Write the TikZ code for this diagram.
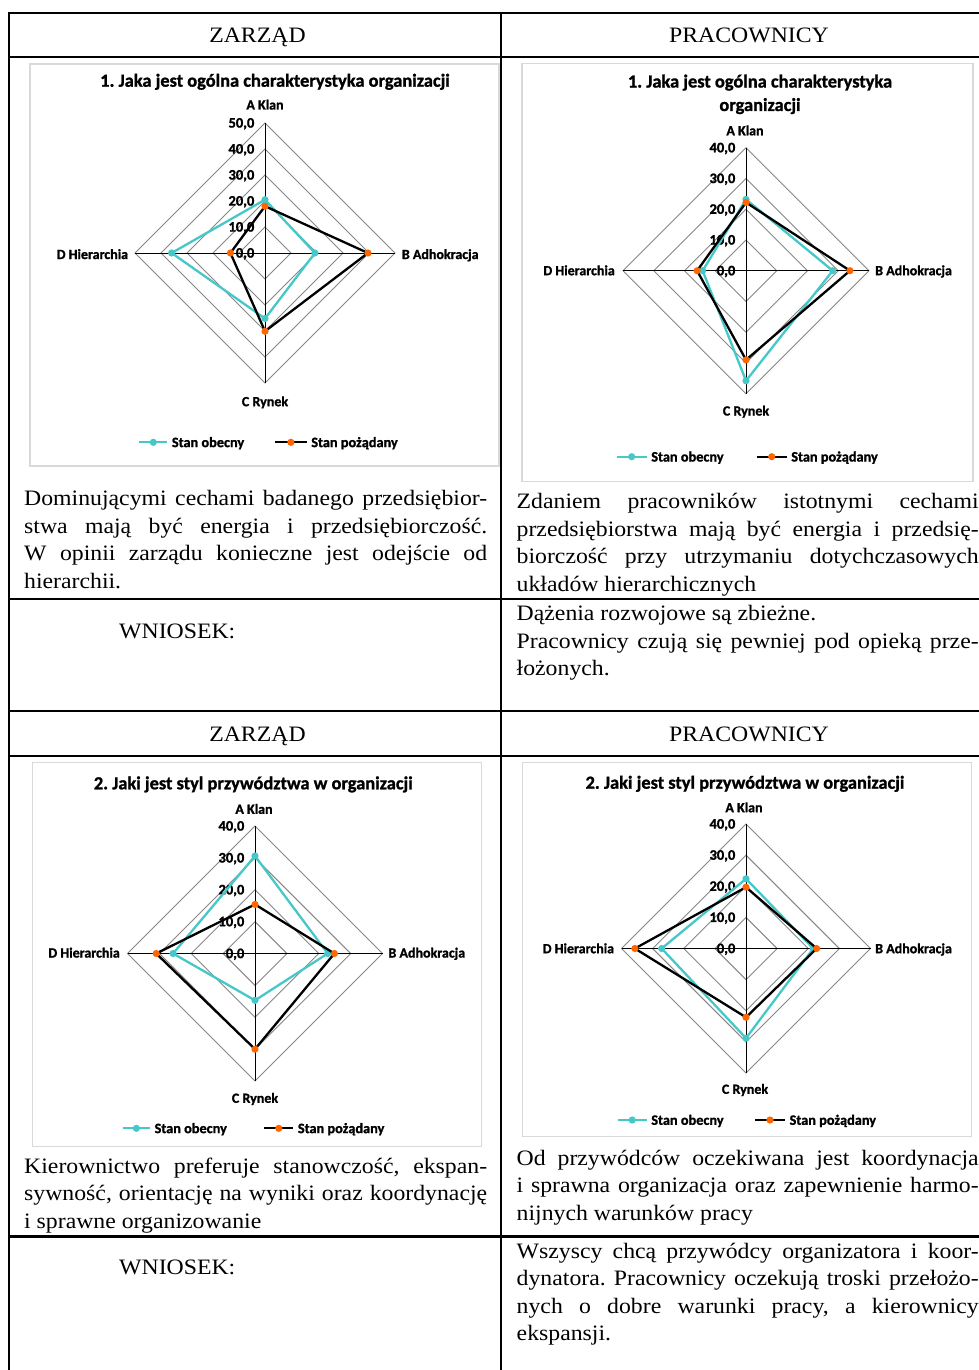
\documentclass[tikz,border=0pt]{standalone}
\usepackage{fontspec}
\setmainfont{Liberation Serif}[FakeStretch=1.08]
\newfontfamily\chartfont{Carlito}[BoldFont=Carlito Bold, BoldFeatures={FakeBold=1.2}]
\usetikzlibrary{calc}
\frenchspacing
\definecolor{serA}{RGB}{70,200,200}
\definecolor{serB}{RGB}{255,102,0}
\definecolor{gridc}{RGB}{134,134,134}
\definecolor{boxc}{RGB}{217,217,217}
\newcommand\jla[1]{\makebox[463pt][s]{\spaceskip=0pt\xspaceskip=0pt\relax #1}}
\newcommand\jlb[1]{\makebox[462pt][s]{\spaceskip=0pt\xspaceskip=0pt\relax #1}}
\tikzset{
  tbl/.style={line width=2.2pt, black},
  cbox/.style={draw=boxc, line width=1.3pt},
  gridl/.style={draw=gridc, line width=0.9pt},
  spoke/.style={draw=black, line width=0.9pt},
  obline/.style={draw=serA, line width=2.3pt, line join=round},
  poline/.style={draw=black, line width=2.3pt, line join=round},
  obmark/.style={fill=serA},
  pomark/.style={fill=serB},
  ctitle/.style={font=\chartfont\bfseries\fontsize{18.4}{23.5}\selectfont, inner sep=0, anchor=base, align=center},
  axl/.style={font=\chartfont\bfseries\fontsize{14}{16}\selectfont, inner sep=0},
  tick/.style={font=\chartfont\bfseries\fontsize{14.5}{16}\selectfont, inner sep=0, anchor=base east},
  leg/.style={font=\chartfont\bfseries\fontsize{14.3}{16}\selectfont, inner sep=0, anchor=base west},
  hdr/.style={font=\fontsize{22}{27.5}\selectfont, inner sep=0, anchor=base},
  lparA/.style={font=\fontsize{22}{27.5}\selectfont\frenchspacing, inner sep=0, anchor=base west, text width=463pt, align=justify},
  lparB/.style={font=\fontsize{22}{27.5}\selectfont\frenchspacing, inner sep=0, anchor=base west, text width=462pt, align=justify},
}
% radar grid: #1 cx, #2 cy, #3 radius, #4 number of rings, #5 name
\newcommand\radar[5]{%
  \begin{scope}[shift={(#1,#2)}]
    \foreach \k in {1,...,#4}{%
      \draw[gridl] (0,-\k*#3/#4) -- (\k*#3/#4,0) -- (0,\k*#3/#4) -- (-\k*#3/#4,0) -- cycle;}
    \coordinate (#5N) at (0,-#3); \coordinate (#5S) at (0,#3);
    \coordinate (#5W) at (-#3,0); \coordinate (#5E) at (#3,0);
    \draw[spoke] (#5N) -- (#5S);
    \draw[spoke] (#5W) -- (#5E);
    \foreach \k in {0,...,#4}{%
      \pgfmathtruncatemacro\tv{10*\k}%
      \node[tick] (#5t\k) at (-10.5,-\k*#3/#4+4.6) {\tv,0};}
  \end{scope}}
% data series: #1 name, #2 cx, #3 cy, #4 px/unit, #5-#8 A B C D, #9 style prefix
\newcommand\series[9]{%
  \coordinate (#1A) at (#2,#3-#4*#5);
  \coordinate (#1B) at (#2+#4*#6,#3);
  \coordinate (#1C) at (#2,#3+#4*#7);
  \coordinate (#1D) at (#2-#4*#8,#3);
  \draw[#9line] (#1A) -- (#1B) -- (#1C) -- (#1D) -- cycle;
  \foreach \p in {A,B,C,D}{\fill[#9mark] (#1\p) circle (3.6);}}
% legend entry: #1 x1, #2 x2, #3 y, #4 style prefix, #5 text, #6 name
\newcommand\legendentry[6]{%
  \coordinate (#6a) at (#1,#3); \coordinate (#6b) at (#2,#3);
  \draw[#4line] (#6a) -- (#6b);
  \fill[#4mark] ($(#6a)!.5!(#6b)$) circle (3.6);
  \node[leg] (#6t) at (#2+4.4,#3+4.8) {#5};}
\begin{document}
\begin{tikzpicture}[x=1pt,y=-1pt]
\useasboundingbox (0,0) rectangle (979,1370);
\fill[white] (0,0) rectangle (979,1370);
% ---------- table ----------
\draw[tbl] (980,12.7) -- (9,12.7) -- (9,1372);
\draw[tbl] (501,12.7) -- (501,1372);
\foreach \yy in {57.3,599,711,756,1236.5}{\draw[tbl] (9,\yy) -- (980,\yy);}
\node[hdr] (hz1) at (257.5,42.5) {ZARZĄD};
\node[hdr] (hp1) at (749,42.5) {PRACOWNICY};
\node[hdr] (hz2) at (257.5,741) {ZARZĄD};
\node[hdr] (hp2) at (749,741) {PRACOWNICY};
\node[hdr, anchor=base west] (w1) at (119,638) {WNIOSEK:};
\node[hdr, anchor=base west] (w2) at (119,1274) {WNIOSEK:};
% ---------- texts ----------
\node[lparA] (t1) at (24,505.5) {\jla{Dominującymi cechami badanego przedsiębior-}\\
\jla{stwa mają być energia i przedsiębiorczość.}\\
\jla{W opinii zarządu konieczne jest odejście od}\\
hierarchii.};
\node[lparB] (t2) at (516.5,508.5) {\jlb{Zdaniem pracowników istotnymi cechami}\\
\jlb{przedsiębiorstwa mają być energia i przedsię-}\\
\jlb{biorczość przy utrzymaniu dotychczasowych}\\
układów hierarchicznych};
\node[lparB] (t3) at (516.5,620.5) {Dążenia rozwojowe są zbieżne.\\
\jlb{Pracownicy czują się pewniej pod opieką prze-}\\
łożonych.};
\node[lparA] (t4) at (24,1173) {\jla{Kierownictwo preferuje stanowczość, ekspan-}\\
\jla{sywność, orientację na wyniki oraz koordynację}\\
i sprawne organizowanie};
\node[lparB] (t5) at (516.5,1165) {\jlb{Od przywódców oczekiwana jest koordynacja}\\
\jlb{i sprawna organizacja oraz zapewnienie harmo-}\\
nijnych warunków pracy};
\node[lparB] (t6) at (516.5,1258) {\jlb{Wszyscy chcą przywódcy organizatora i koor-}\\
\jlb{dynatora. Pracownicy oczekują troski przełożo-}\\
\jlb{nych o dobre warunki pracy, a kierownicy}\\
ekspansji.};
% ---------- chart 1 ----------
\draw[cbox] (30,64) rectangle (499,466);
\node[ctitle] (c1t) at (275,86.7) {1. Jaka jest ogólna charakterystyka organizacji};
\radar{265}{253}{130}{5}{g1}
\series{p1o}{265}{253}{2.6}{20.5}{19.2}{25.2}{35.9}{ob}
\series{p1p}{265}{253}{2.6}{18}{39.6}{30.1}{13.3}{po}
\node[axl, anchor=base] (c1a) at (265,109.5) {A Klan};
\node[axl, anchor=base west] (c1b) at (401.7,259) {B Adhokracja};
\node[axl, anchor=base] (c1c) at (265,406.2) {C Rynek};
\node[axl, anchor=base east] (c1d) at (128.3,259) {D Hierarchia};
\legendentry{139.3}{167.3}{442.3}{ob}{Stan obecny}{l1o}
\legendentry{275}{306.7}{442.3}{po}{Stan pożądany}{l1p}
% ---------- chart 2 ----------
\draw[cbox] (522,63.3) rectangle (973,481.7);
\node[ctitle] (c2t) at (760,111) {1. Jaka jest ogólna charakterystyka\\organizacji};
\radar{746}{270.7}{123}{4}{g2}
\series{p2o}{746}{270.7}{3.075}{23.2}{28.2}{35.8}{14.1}{ob}
\series{p2p}{746}{270.7}{3.075}{22.2}{33.8}{29}{15.9}{po}
\node[axl, anchor=base] (c2a) at (745,135.3) {A Klan};
\node[axl, anchor=base west] (c2b) at (875,275.2) {B Adhokracja};
\node[axl, anchor=base] (c2c) at (746,415.5) {C Rynek};
\node[axl, anchor=base east] (c2d) at (615,275.2) {D Hierarchia};
\legendentry{616.7}{646.7}{456.7}{ob}{Stan obecny}{l2o}
\legendentry{756.7}{786.7}{456.7}{po}{Stan pożądany}{l2p}
% ---------- chart 3 ----------
\draw[cbox] (32.7,762.7) rectangle (481.7,1146.7);
\node[ctitle] (c3t) at (253.3,789.3) {2. Jaki jest styl przywództwa w organizacji};
\radar{255}{953.5}{127.5}{4}{g3}
\series{p3o}{255}{953.5}{3.1875}{30.6}{22.8}{14.7}{25.7}{ob}
\series{p3p}{255}{953.5}{3.1875}{15.4}{24.9}{30}{31}{po}
\node[axl, anchor=base] (c3a) at (254,813.8) {A Klan};
\node[axl, anchor=base west] (c3b) at (388.3,957.5) {B Adhokracja};
\node[axl, anchor=base] (c3c) at (255,1102.8) {C Rynek};
\node[axl, anchor=base east] (c3d) at (120,957.5) {D Hierarchia};
\legendentry{122.7}{150}{1128.3}{ob}{Stan obecny}{l3o}
\legendentry{264.3}{293.3}{1128.3}{po}{Stan pożądany}{l3p}
% ---------- chart 4 ----------
\draw[cbox] (522.7,762.7) rectangle (971.7,1136.7);
\node[ctitle] (c4t) at (745,788.7) {2. Jaki jest styl przywództwa w organizacji};
\radar{746}{948.5}{124.5}{4}{g4}
\series{p4o}{746}{948.5}{3.1125}{22.4}{21.6}{28.8}{27.1}{ob}
\series{p4p}{746}{948.5}{3.1125}{19.7}{22.7}{22.1}{35.7}{po}
\node[axl, anchor=base] (c4a) at (744,812.2) {A Klan};
\node[axl, anchor=base west] (c4b) at (875,953.2) {B Adhokracja};
\node[axl, anchor=base] (c4c) at (745,1093.8) {C Rynek};
\node[axl, anchor=base east] (c4d) at (614.3,953.2) {D Hierarchia};
\legendentry{617.7}{646.7}{1120}{ob}{Stan obecny}{l4o}
\legendentry{755}{785}{1120}{po}{Stan pożądany}{l4p}
\end{tikzpicture}
\end{document}
